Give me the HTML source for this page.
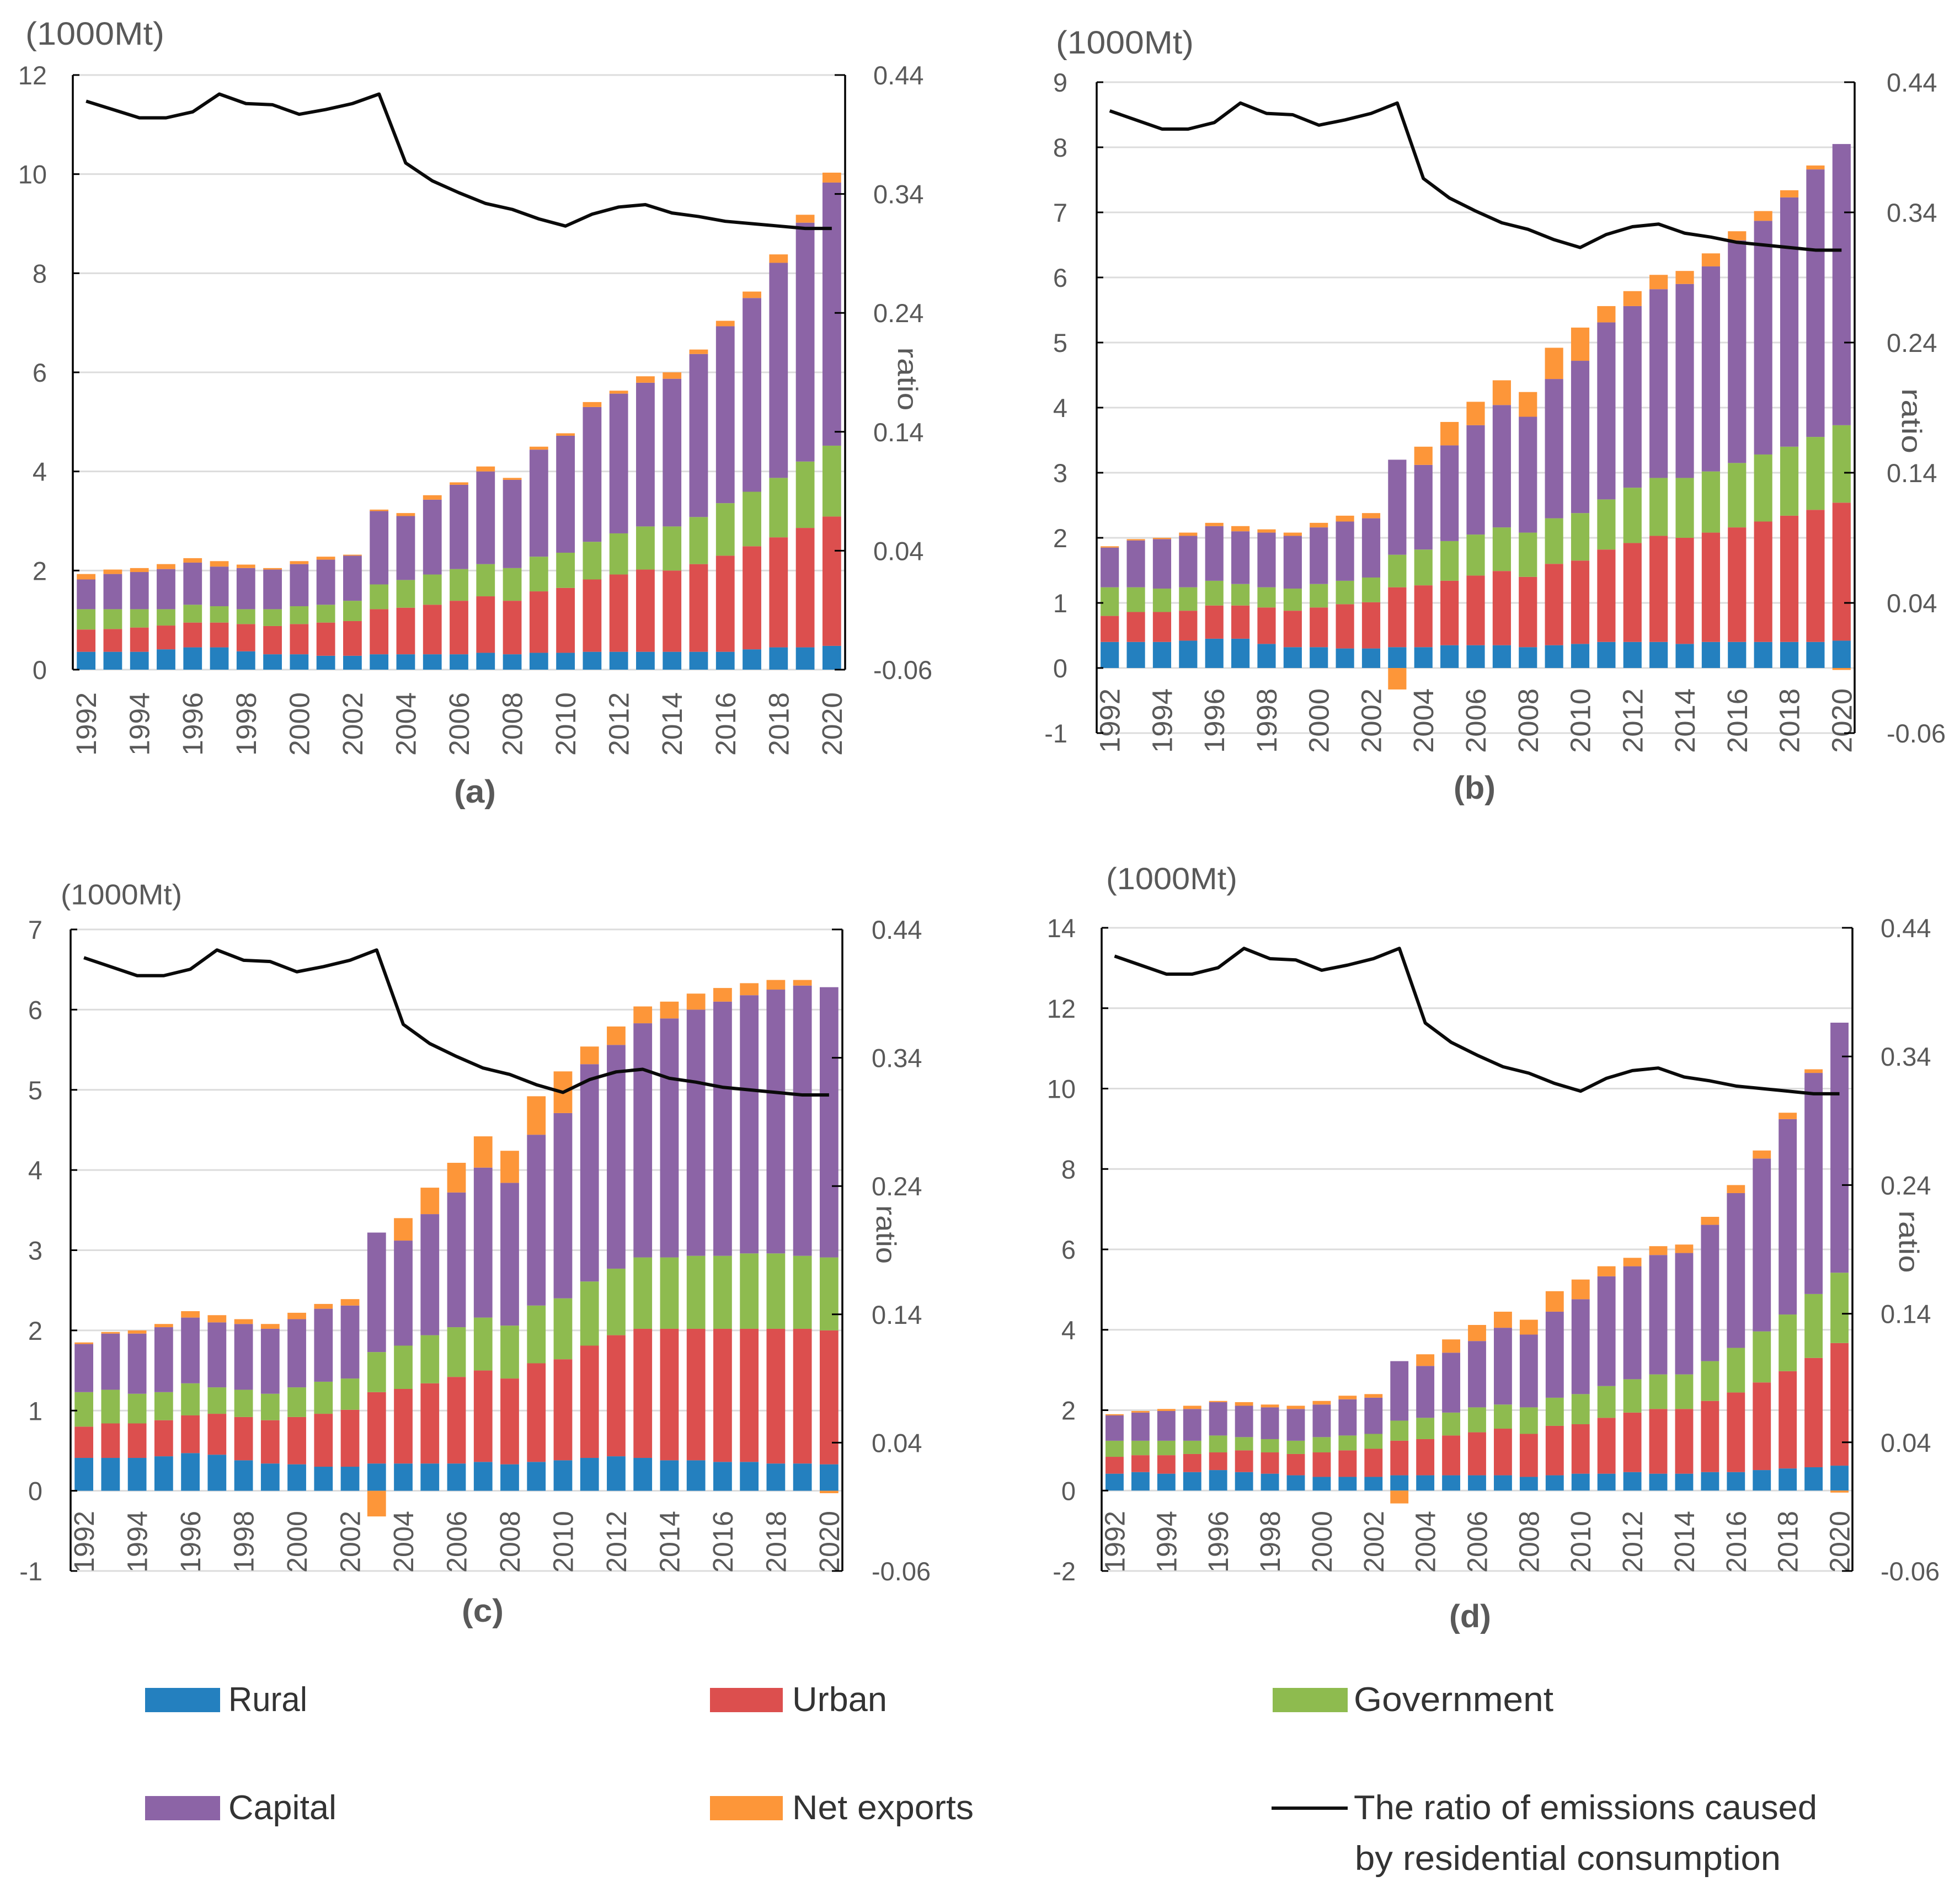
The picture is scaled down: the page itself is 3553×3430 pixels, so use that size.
<!DOCTYPE html>
<html lang="en">
<head>
<meta charset="utf-8">
<title>Emissions by final demand, four panels</title>
<style>
html,body{margin:0;padding:0;background:#fff;}
svg{display:block;}
text{font-family:"Liberation Sans",sans-serif;}
</style>
</head>
<body>
<svg id="figure" xmlns="http://www.w3.org/2000/svg" width="3553" height="3430" viewBox="0 0 3553 3430">
  <rect x="0" y="0" width="3553" height="3430" fill="#ffffff"/>
  <g id="panels"></g>
  <g fill="#333333" font-size="62">
    <g>
      <rect x="263" y="3060" width="136" height="44" fill="#2480bf"/>
      <text x="414" y="3102" textLength="143" lengthAdjust="spacingAndGlyphs">Rural</text>
    </g>
    <g>
      <rect x="1287" y="3060" width="132" height="44" fill="#dc4f4e"/>
      <text x="1436" y="3102" textLength="172" lengthAdjust="spacingAndGlyphs">Urban</text>
    </g>
    <g>
      <rect x="2307" y="3060" width="136" height="44" fill="#8ebb4f"/>
      <text x="2454" y="3102" textLength="362" lengthAdjust="spacingAndGlyphs">Government</text>
    </g>
    <g>
      <rect x="263" y="3256" width="136" height="44" fill="#8c64a6"/>
      <text x="414" y="3298" textLength="196" lengthAdjust="spacingAndGlyphs">Capital</text>
    </g>
    <g>
      <rect x="1287" y="3256" width="132" height="44" fill="#fd9639"/>
      <text x="1436" y="3298" textLength="329" lengthAdjust="spacingAndGlyphs">Net exports</text>
    </g>
    <g>
      <line x1="2305" x2="2443" y1="3278" y2="3278" stroke="#111111" stroke-width="6"/>
      <text x="2454" y="3298" textLength="840" lengthAdjust="spacingAndGlyphs">The ratio of emissions caused</text>
      <text x="2456" y="3390" textLength="772" lengthAdjust="spacingAndGlyphs">by residential consumption</text>
    </g>
  </g>
</svg>
<script>
const years = [1992,1993,1994,1995,1996,1997,1998,1999,2000,2001,2002,2003,2004,2005,2006,2007,2008,2009,2010,2011,2012,2013,2014,2015,2016,2017,2018,2019,2020];
const ratioTicks = [-0.06,0.04,0.14,0.24,0.34,0.44];
const ratioTickLabels = ["-0.06","0.04","0.14","0.24","0.34","0.44"];
const ratio = [.418,.411,.404,.404,.409,.424,.416,.415,.407,.411,.416,.424,.366,.351,.341,.332,.327,.319,.313,.323,.329,.331,.324,.321,.317,.315,.313,.311,.311];

const ticksA = [0,2,4,6,8,10,12];
const ruralA = [.36,.36,.36,.41,.45,.45,.37,.31,.31,.28,.28,.31,.31,.31,.31,.34,.31,.34,.34,.36,.36,.36,.36,.36,.36,.41,.45,.45,.48];
const urbanA = [.45,.46,.49,.48,.50,.50,.55,.57,.61,.67,.70,.91,.94,1.00,1.08,1.14,1.08,1.24,1.31,1.46,1.56,1.66,1.64,1.77,1.94,2.08,2.22,2.41,2.61];
const governmentA = [.41,.40,.37,.33,.36,.33,.30,.34,.36,.36,.41,.50,.56,.61,.64,.65,.66,.70,.71,.76,.83,.87,.89,.95,1.06,1.10,1.20,1.34,1.43];
const capitalA = [.60,.71,.75,.81,.85,.80,.83,.80,.85,.91,.91,1.48,1.29,1.51,1.70,1.87,1.78,2.16,2.36,2.72,2.82,2.90,2.98,3.29,3.57,3.91,4.34,4.82,5.31];
const netExportsA = [.11,.09,.08,.10,.09,.11,.07,.03,.06,.06,.02,.03,.06,.09,.05,.10,.04,.06,.05,.10,.06,.13,.13,.09,.11,.13,.17,.16,.20];

const ticksB = [-1,0,1,2,3,4,5,6,7,8,9];
const ruralB = [.40,.40,.40,.42,.45,.45,.37,.32,.32,.30,.30,.32,.32,.35,.35,.35,.32,.35,.37,.40,.40,.40,.37,.40,.40,.40,.40,.40,.42];
const urbanB = [.40,.46,.46,.46,.51,.51,.56,.56,.61,.68,.71,.92,.95,.99,1.07,1.14,1.08,1.25,1.28,1.42,1.52,1.63,1.63,1.68,1.76,1.85,1.94,2.03,2.12];
const governmentB = [.44,.38,.36,.36,.38,.33,.31,.34,.36,.36,.38,.50,.55,.61,.63,.67,.68,.70,.73,.77,.85,.89,.92,.94,.99,1.03,1.06,1.12,1.19];
const capitalB = [.61,.72,.76,.79,.84,.81,.84,.81,.87,.91,.91,1.46,1.30,1.47,1.68,1.88,1.78,2.14,2.34,2.72,2.79,2.90,2.98,3.15,3.42,3.59,3.83,4.11,4.32];
const netExportsB = [.02,.02,.02,.05,.05,.08,.05,.05,.07,.09,.08,-.33,.28,.36,.36,.38,.38,.48,.51,.25,.23,.22,.20,.20,.14,.15,.11,.06,-.03];

const ticksC = [-1,0,1,2,3,4,5,6,7];
const ruralC = [.41,.41,.41,.43,.47,.45,.38,.34,.33,.30,.30,.34,.34,.34,.34,.36,.33,.36,.38,.41,.43,.41,.38,.38,.36,.36,.34,.34,.33];
const urbanC = [.39,.43,.43,.45,.47,.51,.54,.54,.59,.66,.71,.89,.93,1.00,1.08,1.14,1.07,1.23,1.26,1.40,1.51,1.61,1.64,1.64,1.66,1.66,1.68,1.68,1.67];
const governmentC = [.43,.42,.37,.35,.40,.33,.34,.33,.37,.40,.39,.50,.54,.60,.62,.66,.66,.72,.76,.80,.83,.89,.89,.91,.91,.94,.94,.91,.91];
const capitalC = [.60,.70,.75,.81,.82,.81,.82,.81,.85,.91,.91,1.49,1.31,1.51,1.68,1.87,1.78,2.13,2.31,2.71,2.79,2.92,2.98,3.07,3.17,3.22,3.29,3.37,3.37];
const netExportsC = [.02,.02,.04,.04,.08,.09,.06,.06,.08,.06,.08,-.32,.28,.33,.37,.39,.40,.48,.52,.22,.23,.21,.21,.20,.17,.15,.12,.07,-.03];

const ticksD = [-2,0,2,4,6,8,10,12,14];
const ruralD = [.42,.46,.42,.46,.51,.46,.42,.38,.34,.34,.34,.38,.38,.38,.38,.38,.34,.38,.42,.42,.46,.42,.42,.46,.46,.51,.55,.58,.62];
const urbanD = [.42,.42,.46,.45,.44,.54,.53,.53,.61,.66,.70,.86,.90,.99,1.07,1.16,1.07,1.23,1.23,1.39,1.48,1.61,1.61,1.77,1.98,2.18,2.42,2.72,3.05];
const governmentD = [.40,.36,.36,.33,.42,.33,.33,.33,.38,.37,.37,.50,.53,.57,.62,.60,.66,.70,.75,.79,.83,.86,.86,.99,1.11,1.27,1.41,1.59,1.75];
const capitalD = [.63,.70,.74,.79,.83,.78,.79,.79,.81,.90,.90,1.48,1.29,1.49,1.65,1.91,1.81,2.14,2.36,2.73,2.81,2.97,3.02,3.39,3.85,4.30,4.86,5.50,6.22];
const netExportsD = [.03,.04,.05,.08,.03,.09,.07,.08,.09,.09,.09,-.32,.29,.33,.40,.40,.37,.51,.49,.25,.21,.22,.21,.20,.20,.20,.16,.09,-.05];

const seriesNames = ["rural","urban","government","capital","net-exports"];
const seriesColors = ["#2480bf","#dc4f4e","#8ebb4f","#8c64a6","#fd9639"];

const panels = [
  {id:"a",series:[ruralA,urbanA,governmentA,capitalA,netExportsA],ticks:ticksA,
   L:132,R:1532,T:136,B:1214,leftEnd:85,rightStart:1583,unitX:46,unitY:60,unitLen:252,unitSize:58,
   yrTop:1255,yrLen:115,capX:861,capY:1435,ratioX:1645,ratioY:687,ratioLen:115},
  {id:"b",series:[ruralB,urbanB,governmentB,capitalB,netExportsB],ticks:ticksB,
   L:1988,R:3362,T:149,B:1329,leftEnd:1935,rightStart:3420,unitX:1914,unitY:76,unitLen:250,unitSize:58,
   yrTop:1248,yrLen:117,capX:2673,capY:1428,ratioX:3465,ratioY:763,ratioLen:118},
  {id:"c",series:[ruralC,urbanC,governmentC,capitalC,netExportsC],ticks:ticksC,
   L:128,R:1527,T:1685,B:2848,leftEnd:77,rightStart:1580,unitX:110,unitY:1621,unitLen:220,unitSize:52,
   yrTop:2739,yrLen:112,capX:875,capY:2920,ratioX:1606,ratioY:2238,ratioLen:106},
  {id:"d",series:[ruralD,urbanD,governmentD,capitalD,netExportsD],ticks:ticksD,
   L:1997,R:3358,T:1682,B:2848,leftEnd:1950,rightStart:3409,unitX:2005,unitY:1592,unitLen:238,unitSize:56,
   yrTop:2739,yrLen:112,capX:2665,capY:2930,ratioX:3460,ratioY:2251,ratioLen:113}
];

const SVGNS = "http://www.w3.org/2000/svg";
const TEXT = "#595959";

function make(parent, tag, attrs, content){
  const el = document.createElementNS(SVGNS, tag);
  for (const k in attrs) el.setAttribute(k, attrs[k]);
  if (content !== undefined) el.textContent = content;
  parent.appendChild(el);
  return el;
}

function drawPanel(root, p){
  const yMin = p.ticks[0];
  const yMax = p.ticks[p.ticks.length - 1];
  const yScale = v => p.B - (v - yMin) / (yMax - yMin) * (p.B - p.T);
  const rMin = ratioTicks[0];
  const rMax = ratioTicks[ratioTicks.length - 1];
  const rScale = v => p.B - (v - rMin) / (rMax - rMin) * (p.B - p.T);
  const band = (p.R - p.L) / years.length;
  const xScale = i => p.L + band * (i + 0.5);
  const barW = band * 0.7;

  const g = make(root, "g", {});
  
  

  // gridlines
  p.ticks.forEach(t => {
    const gl = make(g, "line", {x1:p.L, x2:p.R, y1:yScale(t), y2:yScale(t), stroke:"#dcdcdc", "stroke-width":3});
    
    
  });

  // stacked bars
  years.forEach((yr, i) => {
    let pos = 0;
    p.series.forEach((vals, s) => {
      const v = vals[i];
      const lo = v >= 0 ? pos : v;
      const hi = v >= 0 ? pos + v : 0;
      if (v >= 0) pos += v;
      const r = make(g, "rect", {x:xScale(i) - barW / 2, y:yScale(hi), width:barW, height:yScale(lo) - yScale(hi), fill:seriesColors[s]});
      
      
    });
  });

  // year tick labels
  years.forEach((yr, i) => {
    if (i % 2) return;
    const x = xScale(i) + 18;
    const t = make(g, "text", {x:x, y:p.yrTop, transform:"rotate(-90 " + x + " " + p.yrTop + ")", "text-anchor":"end", "font-size":51, fill:TEXT, textLength:p.yrLen, lengthAdjust:"spacingAndGlyphs"}, String(yr));
    
    
  });

  // axes frame
  const la = make(g, "line", {x1:p.L, x2:p.L, y1:p.T, y2:p.B, stroke:"#000", "stroke-width":3.5});
  
  
  const ra = make(g, "line", {x1:p.R, x2:p.R, y1:p.T, y2:p.B, stroke:"#000", "stroke-width":3.5});
  
  

  // left ticks and labels
  p.ticks.forEach(t => {
    const y = yScale(t);
    const tk = make(g, "line", {x1:p.L, x2:p.L + 12, y1:y, y2:y, stroke:"#000", "stroke-width":3});
    
    
    const lb = make(g, "text", {x:p.leftEnd, y:y + 17, "text-anchor":"end", "font-size":47, fill:TEXT}, String(t));
    
    
  });

  // right ticks and labels
  ratioTicks.forEach((t, i) => {
    const y = rScale(t);
    const tk = make(g, "line", {x1:p.R - 19, x2:p.R, y1:y, y2:y, stroke:"#000", "stroke-width":3});
    
    
    const lb = make(g, "text", {x:p.rightStart, y:y + 17, "font-size":47, fill:TEXT}, ratioTickLabels[i]);
    
    
  });

  // ratio line
  const pts = ratio.map((v, i) => xScale(i) + "," + rScale(v)).join(" ");
  const ln = make(g, "polyline", {points:pts, fill:"none", stroke:"#0a0a0a", "stroke-width":6, "stroke-linejoin":"round"});
  
  

  // titles
  const u = make(g, "text", {x:p.unitX, y:p.unitY + p.unitSize * 0.36, "font-size":p.unitSize, fill:TEXT, textLength:p.unitLen, lengthAdjust:"spacingAndGlyphs"}, "(1000Mt)");
  
  
  const rt = make(g, "text", {x:p.ratioX, y:p.ratioY, transform:"rotate(90 " + p.ratioX + " " + p.ratioY + ")", "text-anchor":"middle", "dominant-baseline":"central", "font-size":50, fill:TEXT, textLength:p.ratioLen, lengthAdjust:"spacingAndGlyphs"}, "ratio");
  
  
  const cap = make(g, "text", {x:p.capX, y:p.capY + 20, "text-anchor":"middle", "font-size":58, "font-weight":"bold", fill:TEXT, textLength:76, lengthAdjust:"spacingAndGlyphs"}, "(" + p.id + ")");
  
  
}

const root = document.getElementById("panels");
panels.forEach(p => drawPanel(root, p));
</script>
</body>
</html>
